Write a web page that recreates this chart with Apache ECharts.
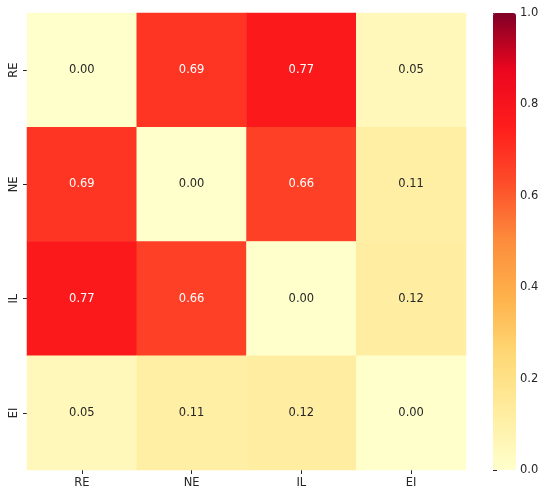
<!DOCTYPE html>
<html>
<head>
<meta charset="utf-8">
<script src="https://cdn.jsdelivr.net/npm/echarts@6/dist/echarts.min.js"></script>
<style>
  html, body { margin: 0; padding: 0; background: #fff; }
  #chart { width: 550px; height: 497px; }
</style>
</head>
<body>
<div id="chart"></div>
<script>
// labels and correlation values
const labels = ['RE', 'NE', 'IL', 'EI'];
const rowRE = [0.00, 0.69, 0.77, 0.05];
const rowNE = [0.69, 0.00, 0.66, 0.11];
const rowIL = [0.77, 0.66, 0.00, 0.12];
const rowEI = [0.05, 0.11, 0.12, 0.00];
const rows = [rowRE, rowNE, rowIL, rowEI];

// YlOrRd-like ramp, slightly brighter reds as in the picture
const ramp = ['#ffffcc', '#ffeda0', '#fed976', '#feb24c', '#fd8d3c',
              '#fd4e2a', '#ff1d1c', '#ec061f', '#800026'];

const font = 'DejaVu Sans';
const ink = '#262626';

let cells = [];
rows.forEach((row, i) => {
  row.forEach((v, j) => {
    cells.push({
      value: [j, i, v],
      label: { color: v > 0.5 ? '#ffffff' : ink }
    });
  });
});

const chart = echarts.init(document.getElementById('chart'));
chart.setOption({
  animation: false,
  backgroundColor: '#fff',
  grid: [
    { left: 27, top: 13, width: 439, height: 457 },
    { left: 493, top: 13, width: 23, height: 457 }
  ],
  xAxis: [
    {
      type: 'category', data: labels, gridIndex: 0,
      axisLine: { show: false },
      axisTick: { show: true, alignWithLabel: true, length: 4, lineStyle: { color: ink } },
      axisLabel: { color: ink, fontFamily: font, fontSize: 11.5, margin: 7 },
      splitLine: { show: false }
    },
    {
      type: 'value', gridIndex: 1, show: false, min: 0, max: 1
    }
  ],
  yAxis: [
    {
      type: 'category', data: labels, gridIndex: 0, inverse: true,
      axisLine: { show: false },
      axisTick: { show: true, alignWithLabel: true, length: 4, lineStyle: { color: ink } },
      axisLabel: { color: ink, fontFamily: font, fontSize: 11.5, rotate: 90, margin: 7 },
      splitLine: { show: false }
    },
    {
      type: 'value', gridIndex: 1, position: 'right', min: 0, max: 1, interval: 0.2,
      axisLine: { show: false },
      axisTick: { show: true, length: 4, lineStyle: { color: ink } },
      axisLabel: {
        color: ink, fontFamily: font, fontSize: 11.5, margin: 4,
        formatter: v => v.toFixed(1)
      },
      splitLine: { show: false }
    }
  ],
  visualMap: {
    type: 'continuous',
    min: 0, max: 1,
    seriesIndex: 0,
    calculable: false,
    show: true,
    text: null,
    showLabel: false,
    orient: 'vertical',
    left: 493, top: 13,
    itemWidth: 23, itemHeight: 457,
    padding: 0,
    inRange: { color: ramp }
  },
  series: [
    {
      type: 'heatmap',
      xAxisIndex: 0, yAxisIndex: 0,
      data: cells,
      label: {
        show: true,
        fontFamily: font, fontSize: 11.5,
        formatter: p => p.value[2].toFixed(2)
      },
      itemStyle: { borderWidth: 0 },
      emphasis: { disabled: true }
    },
    {
      type: 'line', xAxisIndex: 1, yAxisIndex: 1, data: [], silent: true
    }
  ]
});
</script>
</body>
</html>
